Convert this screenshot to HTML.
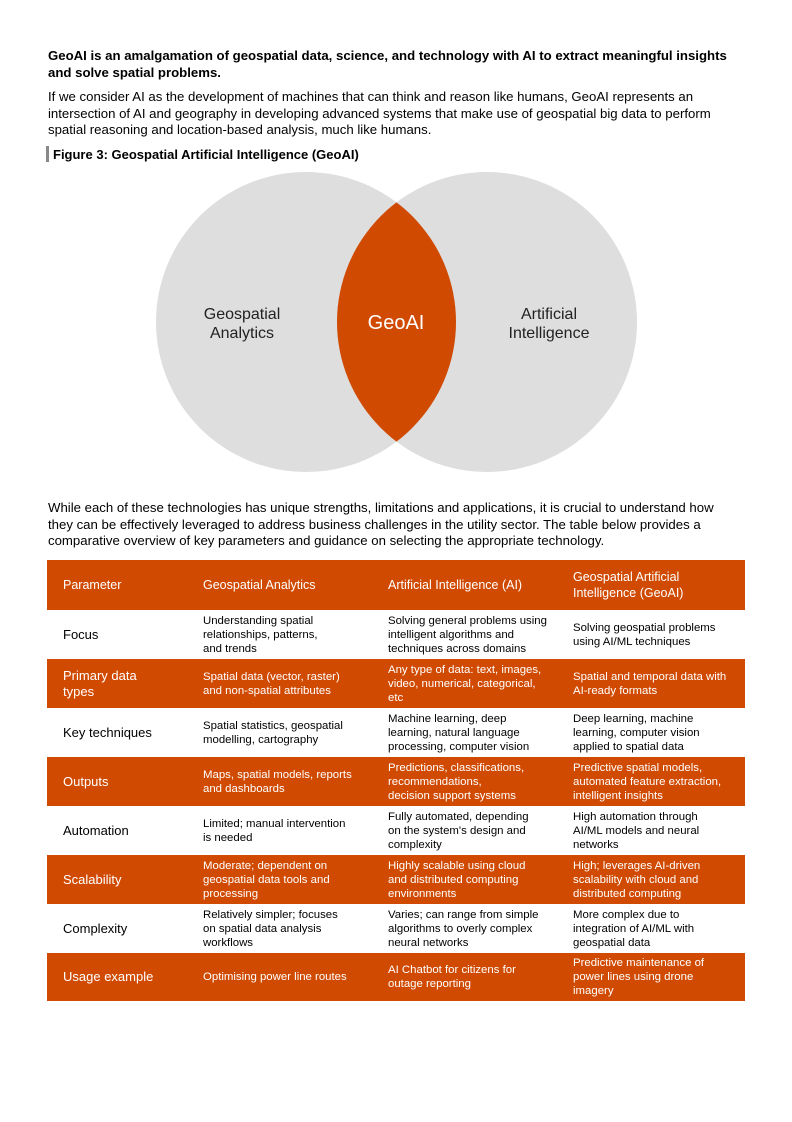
<!DOCTYPE html>
<html><head><meta charset="utf-8"><style>
*{margin:0;padding:0;box-sizing:border-box}
body{width:792px;height:1122px;background:#fff;font-family:"Liberation Sans",Arial,sans-serif;color:#000;position:relative;overflow:hidden}
.t{position:absolute;left:48px;font-size:13.2px;line-height:16.5px;white-space:nowrap}
.row{position:absolute;left:47px;width:698px;height:49px}
.o{background:#D04A02;color:#fff}
.c{position:absolute;top:0;height:100%;display:flex;align-items:center;font-size:11.4px;line-height:14px;white-space:nowrap}
.c1{left:16px;font-size:13px;line-height:16px}
.c2{left:156px}
.c3{left:341px}
.c4{left:526px}
</style></head><body>
<div class="t" style="top:48px;font-weight:bold;font-size:13.2px">GeoAI is an amalgamation of geospatial data, science, and technology with AI to extract meaningful insights<br>and solve spatial problems.</div>
<div class="t" style="top:89px">If we consider AI as the development of machines that can think and reason like humans, GeoAI represents an<br>intersection of AI and geography in developing advanced systems that make use of geospatial big data to perform<br>spatial reasoning and location-based analysis, much like humans.</div>
<div style="position:absolute;left:46px;top:146px;width:3px;height:16px;background:#888"></div>
<div class="t" style="top:147px;left:53px;font-weight:bold;font-size:13px">Figure 3: Geospatial Artificial Intelligence (GeoAI)</div>

<svg style="position:absolute;left:0;top:0" width="792" height="500">
<defs><clipPath id="cl"><circle cx="306" cy="322" r="150"/></clipPath></defs>
<circle cx="306" cy="322" r="150" fill="#dedede"/>
<circle cx="487" cy="322" r="150" fill="#dedede"/>
<circle cx="487" cy="322" r="150" fill="#D04A02" clip-path="url(#cl)"/>
<text x="242" y="319" font-family="Liberation Sans,Arial,sans-serif" font-size="16" text-anchor="middle" fill="#222">Geospatial</text>
<text x="242" y="338" font-family="Liberation Sans,Arial,sans-serif" font-size="16" text-anchor="middle" fill="#222">Analytics</text>
<text x="396" y="329" font-family="Liberation Sans,Arial,sans-serif" font-size="20" text-anchor="middle" fill="#fff">GeoAI</text>
<text x="549" y="319" font-family="Liberation Sans,Arial,sans-serif" font-size="16" text-anchor="middle" fill="#222">Artificial</text>
<text x="549" y="338" font-family="Liberation Sans,Arial,sans-serif" font-size="16" text-anchor="middle" fill="#222">Intelligence</text>
</svg>

<div class="t" style="top:500px">While each of these technologies has unique strengths, limitations and applications, it is crucial to understand how<br>they can be effectively leveraged to address business challenges in the utility sector. The table below provides a<br>comparative overview of key parameters and guidance on selecting the appropriate technology.</div>

<div class="row o" style="top:560px;height:50px"><div class="c c1" style="font-size:12.5px">Parameter</div><div class="c c2" style="font-size:12.5px;line-height:16px">Geospatial Analytics</div><div class="c c3" style="font-size:12.5px;line-height:16px">Artificial Intelligence (AI)</div><div class="c c4" style="font-size:12.5px;line-height:16px">Geospatial Artificial<br>Intelligence (GeoAI)</div></div>
<div class="row" style="top:610px"><div class="c c1">Focus</div><div class="c c2">Understanding spatial<br>relationships, patterns,<br>and trends</div><div class="c c3">Solving general problems using<br>intelligent algorithms and<br>techniques across domains</div><div class="c c4">Solving geospatial problems<br>using AI/ML techniques</div></div>
<div class="row o" style="top:659px"><div class="c c1">Primary data<br>types</div><div class="c c2">Spatial data (vector, raster)<br>and non-spatial attributes</div><div class="c c3">Any type of data: text, images,<br>video, numerical, categorical,<br>etc</div><div class="c c4">Spatial and temporal data with<br>AI-ready formats</div></div>
<div class="row" style="top:708px"><div class="c c1">Key techniques</div><div class="c c2">Spatial statistics, geospatial<br>modelling, cartography</div><div class="c c3">Machine learning, deep<br>learning, natural language<br>processing, computer vision</div><div class="c c4">Deep learning, machine<br>learning, computer vision<br>applied to spatial data</div></div>
<div class="row o" style="top:757px"><div class="c c1">Outputs</div><div class="c c2">Maps, spatial models, reports<br>and dashboards</div><div class="c c3">Predictions, classifications,<br>recommendations,<br>decision support systems</div><div class="c c4">Predictive spatial models,<br>automated feature extraction,<br>intelligent insights</div></div>
<div class="row" style="top:806px"><div class="c c1">Automation</div><div class="c c2">Limited; manual intervention<br>is needed</div><div class="c c3">Fully automated, depending<br>on the system's design and<br>complexity</div><div class="c c4">High automation through<br>AI/ML models and neural<br>networks</div></div>
<div class="row o" style="top:855px"><div class="c c1">Scalability</div><div class="c c2">Moderate; dependent on<br>geospatial data tools and<br>processing</div><div class="c c3">Highly scalable using cloud<br>and distributed computing<br>environments</div><div class="c c4">High; leverages AI-driven<br>scalability with cloud and<br>distributed computing</div></div>
<div class="row" style="top:904px"><div class="c c1">Complexity</div><div class="c c2">Relatively simpler; focuses<br>on spatial data analysis<br>workflows</div><div class="c c3">Varies; can range from simple<br>algorithms to overly complex<br>neural networks</div><div class="c c4">More complex due to<br>integration of AI/ML with<br>geospatial data</div></div>
<div class="row o" style="top:953px;height:48px"><div class="c c1">Usage example</div><div class="c c2">Optimising power line routes</div><div class="c c3">AI Chatbot for citizens for<br>outage reporting</div><div class="c c4">Predictive maintenance of<br>power lines using drone<br>imagery</div></div>
</body></html>
